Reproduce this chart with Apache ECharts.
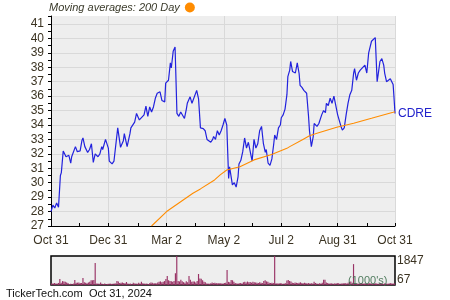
<!DOCTYPE html>
<html>
<head>
<meta charset="utf-8">
<script src="https://cdn.jsdelivr.net/npm/echarts@6/dist/echarts.min.js"></script>
<style>
html,body{margin:0;padding:0;background:#fff;}
#chart{width:450px;height:300px;}
</style>
</head>
<body>
<div id="chart"></div>
<script>
// ---------- DATA ----------
const ticker = 'CDRE';
const maName = '200 Day';

const priceDates = [
'2023-10-31','2023-11-02','2023-11-04','2023-11-06','2023-11-08','2023-11-09','2023-11-10','2023-11-11',
'2023-11-13','2023-11-16','2023-11-19','2023-11-21','2023-11-22','2023-11-24','2023-11-26','2023-11-28',
'2023-12-01','2023-12-03','2023-12-04','2023-12-06','2023-12-09','2023-12-11','2023-12-13','2023-12-15',
'2023-12-17','2023-12-20','2023-12-22','2023-12-24','2023-12-25','2023-12-28','2023-12-31','2024-01-01',
'2024-01-04','2024-01-06','2024-01-08','2024-01-10','2024-01-12','2024-01-13','2024-01-16','2024-01-17',
'2024-01-20','2024-01-23','2024-01-24','2024-01-26','2024-01-28','2024-01-30','2024-02-02','2024-02-04',
'2024-02-07','2024-02-09','2024-02-11','2024-02-13','2024-02-15','2024-02-17','2024-02-19','2024-02-21',
'2024-02-24','2024-02-26','2024-02-29','2024-03-01','2024-03-03','2024-03-04','2024-03-06','2024-03-07',
'2024-03-09','2024-03-11','2024-03-13','2024-03-15','2024-03-17','2024-03-19','2024-03-21','2024-03-23',
'2024-03-24','2024-03-27','2024-03-29','2024-03-30','2024-04-03','2024-04-05','2024-04-07','2024-04-08',
'2024-04-10','2024-04-12','2024-04-14','2024-04-16','2024-04-18','2024-04-20','2024-04-21','2024-04-23',
'2024-04-25','2024-04-27','2024-04-29','2024-05-01','2024-05-03','2024-05-05','2024-05-07','2024-05-08',
'2024-05-10','2024-05-11','2024-05-13','2024-05-15','2024-05-17','2024-05-18','2024-05-20','2024-05-22',
'2024-05-24','2024-05-25','2024-05-26','2024-05-28','2024-05-30','2024-06-01','2024-06-03','2024-06-05',
'2024-06-07','2024-06-09','2024-06-11','2024-06-13','2024-06-15','2024-06-16','2024-06-18','2024-06-20',
'2024-06-22','2024-06-24','2024-06-25','2024-06-27','2024-06-29','2024-07-01','2024-07-02','2024-07-04',
'2024-07-06','2024-07-08','2024-07-09','2024-07-11','2024-07-12','2024-07-14','2024-07-17','2024-07-19',
'2024-07-21','2024-07-22','2024-07-24','2024-07-26','2024-07-27','2024-07-29','2024-07-31','2024-08-01',
'2024-08-03','2024-08-05','2024-08-06','2024-08-09','2024-08-11','2024-08-14','2024-08-16','2024-08-18',
'2024-08-19','2024-08-21','2024-08-23','2024-08-25','2024-08-27','2024-08-29','2024-08-31','2024-09-02',
'2024-09-04','2024-09-05','2024-09-07','2024-09-09','2024-09-11','2024-09-13','2024-09-15','2024-09-17',
'2024-09-18','2024-09-20','2024-09-22','2024-09-24','2024-09-26','2024-09-29','2024-10-01','2024-10-03',
'2024-10-04','2024-10-06','2024-10-08','2024-10-10','2024-10-12','2024-10-13','2024-10-15','2024-10-17',
'2024-10-19','2024-10-20','2024-10-22','2024-10-24','2024-10-26','2024-10-27','2024-10-29','2024-10-30','2024-10-31'
];
const closes = [
28.0,28.45,28.25,28.6,28.3,28.35,30.5,30.7,
32.2,31.8,31.9,31.35,31.8,31.7,32.5,32.15,
32.2,32.95,33.1,32.5,32.1,32.3,32.7,31.4,
32.0,31.8,32.0,32.5,32.3,33.0,32.4,31.5,
31.3,31.5,31.5,33.8,33.8,32.45,32.9,33.4,
32.5,33.4,33.8,33.9,34.2,34.8,34.35,34.46,
34.7,35.3,34.6,35.25,34.9,35.25,35.85,36.2,
36.3,35.7,35.6,36.9,36.9,37.1,38.3,37.95,
39.1,39.4,34.8,34.6,34.9,34.9,34.45,35.1,
35.5,35.95,35.5,35.55,36.4,35.8,33.8,33.7,
33.75,33.6,33.0,32.9,32.8,33.0,33.2,33.0,
33.6,33.3,33.6,34.0,34.45,34.0,30.3,31.1,
31.2,29.85,30.0,29.7,30.4,31.3,31.55,32.15,
33.1,33.2,32.4,32.8,32.8,31.5,33.0,32.4,
32.7,33.6,33.9,32.7,32.1,32.3,31.35,31.2,
31.65,32.7,33.3,33.0,33.8,34.0,34.5,34.7,
35.1,36.1,37.35,37.8,38.4,37.7,37.6,38.3,
37.55,36.75,36.6,36.4,36.3,36.2,34.6,33.6,
32.5,33.2,34.1,33.9,34.1,34.7,35.0,34.85,
35.5,35.35,35.85,35.5,36.0,36.1,34.7,34.7,
33.8,33.65,33.8,34.7,35.5,36.1,36.4,37.6,
37.9,37.1,37.6,37.8,37.85,38.15,37.6,39.0,
38.9,39.8,39.8,40.05,37.0,37.45,38.4,38.6,
38.15,37.6,37.0,37.0,37.2,37.1,36.8,35.85,34.8
];

const maDates = [
'2024-02-15','2024-03-02','2024-03-30','2024-04-07','2024-04-22','2024-04-28','2024-05-05','2024-05-19',
'2024-06-03','2024-06-20','2024-06-23','2024-07-08','2024-07-11','2024-07-25','2024-08-01','2024-08-09',
'2024-08-30','2024-09-17','2024-10-06','2024-10-08','2024-10-29','2024-10-31'
];
const maValues = [
27.0,28.0,29.27,29.57,30.19,30.54,30.88,31.11,
31.58,31.92,31.99,32.38,32.5,33.0,33.25,33.42,
33.84,34.12,34.46,34.55,34.88,34.92
];

// daily volume in thousands, one per trading day (Oct 31 2023 .. Oct 31 2024)
const volumes = [
110,90,120,100,90,130,380,150,250,230,
200,160,120,70,80,60,90,320,140,150,
160,130,120,450,180,150,110,160,200,300,
300,320,1400,90,100,80,160,80,70,90,
60,70,80,90,70,80,100,90,250,220,
130,140,160,120,110,190,100,80,90,70,
150,90,100,80,140,90,200,110,90,80,
100,70,110,160,140,90,120,100,160,200,
230,180,200,250,380,570,300,260,240,200,
250,750,1847,260,230,330,240,180,140,240,
180,570,330,200,230,220,160,250,700,420,
400,300,200,170,100,90,80,110,160,120,
150,120,100,130,110,90,100,120,140,950,
200,180,320,300,200,120,100,90,110,130,
100,180,200,160,220,170,190,150,200,180,
160,140,130,170,150,120,260,300,230,200,
150,130,140,120,1847,110,100,90,130,100,
80,90,110,280,320,260,230,150,130,160,
140,120,150,170,130,110,140,120,100,130,
90,110,100,200,130,100,80,110,90,150,
330,340,160,120,90,100,110,80,100,90,
120,110,80,100,90,130,110,100,140,200,
220,150,1330,120,100,80,90,110,130,100,
90,110,80,100,120,90,70,100,110,90,
80,100,120,90,70,110,100,80,90,120,
100,90,110
];
const marketHolidays = ['2023-11-23','2023-12-25','2024-01-01','2024-01-15','2024-02-19','2024-03-29',
  '2024-05-27','2024-06-19','2024-07-04','2024-09-02'];

const xLabelDates = ['2023-10-31','2023-12-31','2024-03-02','2024-05-02','2024-07-02','2024-08-31','2024-10-31'];
const xLabelTexts = ['Oct 31','Dec 31','Mar 2','May 2','Jul 2','Aug 31','Oct 31'];
const xTickDates = ['2023-10-31','2023-11-30','2023-12-31','2024-02-01','2024-03-02','2024-04-02','2024-05-02',
  '2024-06-01','2024-07-02','2024-08-01','2024-08-31','2024-10-01','2024-10-31'];
const yTicks = [27,28,29,30,31,32,33,34,35,36,37,38,39,40,41];
const yMinorTicks = [27.5,28.5,29.5,30.5,31.5,32.5,33.5,34.5,35.5,36.5,37.5,38.5,39.5,40.5,41.5];
const volLabels = ['1847','67'];
const volUnit = "(1000's)";
const footerSite = 'TickerTech.com';
const footerDate = 'Oct 31, 2024';
const legendText = 'Moving averages: 200 Day';

// ---------- BUILD ----------
function pad(n){return n<10?'0'+n:''+n;}
function ts(s){ const p = s.split('-'); return Date.UTC(+p[0], +p[1]-1, +p[2]); }
const tradingDays = [];
(function(){
  let d = ts('2023-10-31');
  const end = ts('2024-10-31');
  while (d <= end) {
    const dt = new Date(d);
    const wd = dt.getUTCDay();
    const s = dt.getUTCFullYear()+'-'+pad(dt.getUTCMonth()+1)+'-'+pad(dt.getUTCDate());
    if (wd !== 0 && wd !== 6 && marketHolidays.indexOf(s) < 0) tradingDays.push(s);
    d += 86400000;
  }
})();

const priceData = priceDates.map((d,i)=>[ts(d), closes[i]]);
const maData = maDates.map((d,i)=>[ts(d), maValues[i]]);
const labelMap = {};
xLabelDates.forEach((d,i)=>{ labelMap[ts(d)] = xLabelTexts[i]; });
const xMin = ts('2023-10-31'), xMax = ts('2024-10-31');

const txt = '#3b3322';
const font = "'Liberation Sans', Arial, sans-serif";
const grid = '#d9d9d9';

const chart = echarts.init(document.getElementById('chart'), null, {renderer:'canvas'});
chart.setOption({
  animation: false,
  backgroundColor: '#ffffff',
  textStyle: {fontFamily: font},
  legend: {
    data: [maName], left: 49, top: 2, align: 'right', icon: 'circle',
    itemWidth: 10, itemHeight: 10, itemGap: 4, padding: 0,
    formatter: () => legendText,
    textStyle: {fontSize: 11, fontStyle: 'italic', color: '#3a3a2a', fontFamily: font}
  },
  grid: [
    {left: 51, top: 16, width: 344, height: 210, show: true, backgroundColor: '#eeeeee', borderWidth: 0},
    {left: 51, top: 256, width: 344, height: 29, show: true, backgroundColor: '#eeeeee', borderColor: '#000', borderWidth: 1.5}
  ],
  xAxis: [
    {type: 'value', gridIndex: 0, min: xMin, max: xMax, scale: true,
     axisLine: {show: true, onZero: false, lineStyle: {color: '#000', width: 1}},
     axisTick: {show: true, inside: true, length: 3, customValues: xTickDates.map(ts), lineStyle: {color: '#000'}},
     axisLabel: {customValues: xLabelDates.map(ts), color: txt, fontSize: 12, margin: 9, fontFamily: font,
       formatter: v => labelMap[v] !== undefined ? labelMap[v] : ''},
     splitLine: {show: false}},
    {type: 'value', gridIndex: 0, min: xMin, max: xMax, scale: true, position: 'bottom',
     axisLine: {show: false}, axisLabel: {show: false},
     axisTick: {show: false, customValues: xLabelDates.map(ts)},
     splitLine: {show: true, lineStyle: {color: grid, width: 1}}},
    {type: 'category', gridIndex: 1, data: tradingDays, show: false, boundaryGap: true}
  ],
  yAxis: [
    {type: 'value', gridIndex: 0, min: 27, max: 41.55, interval: 1, position: 'left',
     axisLine: {show: true, lineStyle: {color: '#000', width: 1}},
     axisTick: {show: true, length: 3, customValues: yTicks, lineStyle: {color: '#000'}},
     axisLabel: {customValues: yTicks, color: txt, fontSize: 12, margin: 7, fontFamily: font},
     splitLine: {show: true, lineStyle: {color: grid, width: 1}}},
    {type: 'value', gridIndex: 0, min: 27, max: 41.55, interval: 1, position: 'left',
     axisLine: {show: false}, axisLabel: {show: false}, splitLine: {show: false},
     axisTick: {show: true, length: 3, customValues: yMinorTicks, lineStyle: {color: '#000'}}},
    {type: 'value', gridIndex: 1, min: 0, max: 1847, show: false, splitLine: {show: false}}
  ],
  series: [
    {name: ticker, type: 'line', xAxisIndex: 0, yAxisIndex: 0, data: priceData,
     showSymbol: false, symbol: 'none', lineStyle: {color: '#2222dd', width: 1.2}, itemStyle: {color: '#2222dd'},
     endLabel: {show: true, formatter: ticker, color: '#2222cc', fontSize: 12, distance: 3, fontFamily: font},
     z: 3},
    {name: maName, type: 'line', xAxisIndex: 0, yAxisIndex: 0, data: maData,
     showSymbol: false, symbol: 'none', lineStyle: {color: '#ff8c00', width: 1.1}, itemStyle: {color: '#ff8c00'},
     z: 4},
    {name: 'Volume', type: 'bar', xAxisIndex: 2, yAxisIndex: 2, data: volumes,
     itemStyle: {color: '#993366'}, barCategoryGap: '15%', z: 2}
  ],
  graphic: [
    {type: 'text', left: 397, top: 255, style: {text: volLabels[0], fill: txt, font: "12px 'Liberation Sans', Arial, sans-serif"}},
    {type: 'text', left: 397, top: 274, style: {text: volLabels[1], fill: txt, font: "12px 'Liberation Sans', Arial, sans-serif"}},
    {type: 'text', left: 348, top: 275, z: 100, style: {text: volUnit, fill: '#3f6f4f', opacity: 0.9, font: "11px 'Liberation Sans', Arial, sans-serif"}},
    {type: 'text', left: 6, top: 288, style: {text: footerSite, fill: '#111', font: "11px 'Liberation Sans', Arial, sans-serif"}},
    {type: 'text', left: 89, top: 288, style: {text: footerDate, fill: '#111', font: "11px 'Liberation Sans', Arial, sans-serif"}}
  ]
});
</script>
</body>
</html>
